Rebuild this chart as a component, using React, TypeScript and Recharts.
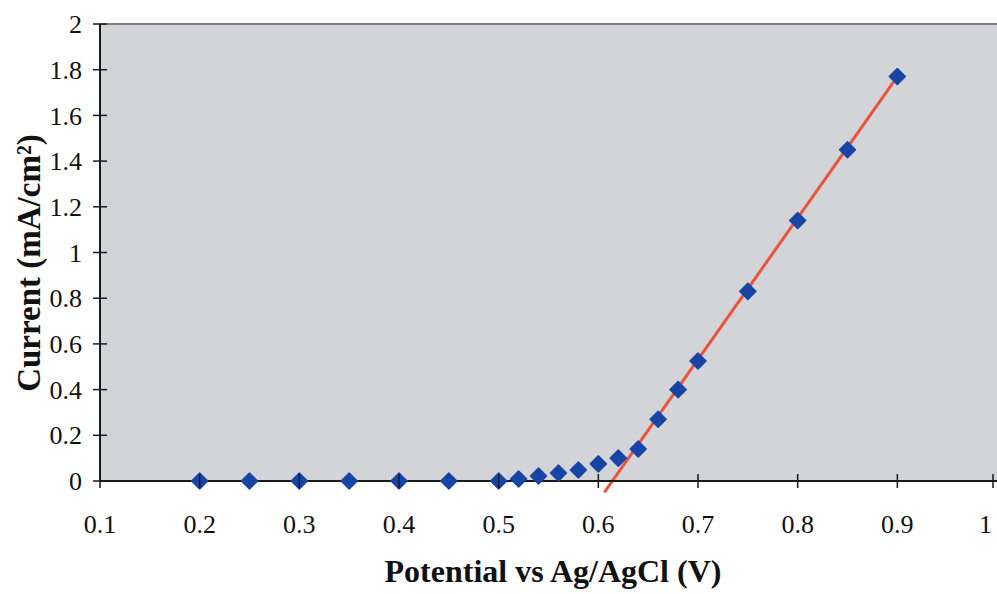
import {
    ScatterChart,
    Scatter,
    XAxis,
    YAxis,
    CartesianGrid,
    ReferenceLine,
    Label,
} from "recharts";

// potential (V) vs current (mA/cm2)
const potential = [0.2, 0.25, 0.3, 0.35, 0.4, 0.45, 0.5, 0.52, 0.54, 0.56, 0.58, 0.6, 0.62, 0.64, 0.66, 0.68, 0.7, 0.75, 0.8, 0.85, 0.9];
const current = [0, 0, 0, 0, 0, 0, 0, 0.009, 0.022, 0.035, 0.048, 0.075, 0.1, 0.14, 0.27, 0.4, 0.525, 0.83, 1.14, 1.45, 1.77];

// linear fit drawn through the upper points
const trendX = [0.606, 0.9];
const trendY = [-0.05, 1.77];

const xTicks = [0.1, 0.2, 0.3, 0.4, 0.5, 0.6, 0.7, 0.8, 0.9, 1];
const yTicks = [0, 0.2, 0.4, 0.6, 0.8, 1, 1.2, 1.4, 1.6, 1.8, 2];

const points = potential.map((x, i) => ({ x, y: current[i] }));

const FONT = "'Liberation Serif', 'Times New Roman', serif";

const Diamond = (props: any) => {
    const { cx, cy } = props;
    const r = 8;
    return (
        <path
            d={`M${cx},${cy - r} L${cx + r},${cy} L${cx},${cy + r} L${cx - r},${cy} Z`}
            fill="#1845a5"
            stroke="#1845a5"
            strokeWidth={1.5}
            strokeLinejoin="round"
        />
    );
};

const XTick = (props: any) => {
    const { x, y, payload, index } = props;
    // last label sits on the page edge, keep it inside
    const last = index === xTicks.length - 1;
    return (
        <g>
            <line x1={x} x2={x} y1={y - 7} y2={y + 7} stroke="#1a1a1a" strokeWidth={1.5} />
            <text
                x={last ? x - 1 : x}
                y={y + 52}
                textAnchor={last ? "end" : "middle"}
                fontFamily={FONT}
                fontSize={26}
                fill="#111"
            >
                {payload.value}
            </text>
        </g>
    );
};

const YTick = (props: any) => {
    const { x, y, payload } = props;
    return (
        <g>
            <line x1={x - 7} x2={x + 7} y1={y} y2={y} stroke="#1a1a1a" strokeWidth={1.5} />
            <text x={x - 18} y={y} dy="0.35em" textAnchor="end" fontFamily={FONT} fontSize={26} fill="#111">
                {payload.value}
            </text>
        </g>
    );
};

const App = () => {
    return (
        <div style={{ position: "absolute", left: 0, top: 0 }}>
            <ScatterChart
                width={997}
                height={594}
                margin={{ top: 24, right: 0, left: 0, bottom: 0 }}
            >
                <CartesianGrid fill="#d3d4d7" horizontal={false} vertical={false} />
                <XAxis
                    type="number"
                    dataKey="x"
                    domain={[0.1, 1]}
                    ticks={xTicks}
                    height={113}
                    tickSize={0}
                    tickMargin={0}
                    tickLine={false}
                    tick={<XTick />}
                    axisLine={{ stroke: "#1a1a1a", strokeWidth: 2 }}
                >
                    <Label
                        content={() => (
                            <text x={553} y={582} textAnchor="middle" fontFamily={FONT} fontWeight="bold" fontSize={32} fill="#111">
                                Potential vs Ag/AgCl (V)
                            </text>
                        )}
                    />
                </XAxis>
                <YAxis
                    type="number"
                    dataKey="y"
                    domain={[0, 2]}
                    ticks={yTicks}
                    width={100}
                    tickSize={0}
                    tickMargin={0}
                    tickLine={false}
                    tick={<YTick />}
                    axisLine={{ stroke: "#1a1a1a", strokeWidth: 2 }}
                >
                    <Label
                        content={() => (
                            <text
                                x={40}
                                y={263}
                                transform="rotate(-90 40 263)"
                                textAnchor="middle"
                                fontFamily={FONT}
                                fontWeight="bold"
                                fontSize={33}
                                fill="#111"
                            >
                                Current (mA/cm²)
                            </text>
                        )}
                    />
                </YAxis>
                <ReferenceLine y={2} stroke="#7d7d7d" strokeWidth={2} />
                <ReferenceLine
                    segment={[
                        { x: trendX[0], y: trendY[0] },
                        { x: trendX[1], y: trendY[1] },
                    ]}
                    ifOverflow="visible"
                    stroke="#e8553c"
                    strokeWidth={3}
                />
                <Scatter data={points} shape={<Diamond />} isAnimationActive={false} />
            </ScatterChart>
        </div>
    );
};

export default App;
